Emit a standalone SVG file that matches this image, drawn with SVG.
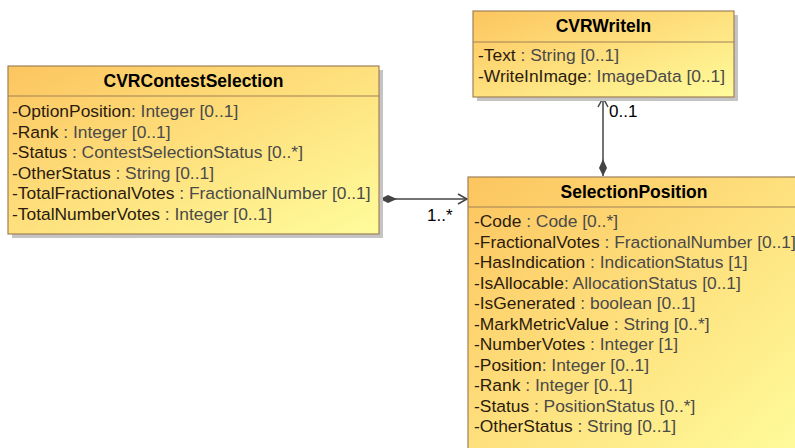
<svg xmlns="http://www.w3.org/2000/svg" width="795" height="448" viewBox="0 0 795 448">
<defs>
<linearGradient id="g" x1="0" y1="0" x2="1" y2="1">
<stop offset="0" stop-color="#fcc55f"/>
<stop offset="1" stop-color="#fffc9c"/>
</linearGradient>
<marker id="open" markerWidth="12" markerHeight="12" refX="10" refY="6" orient="auto" markerUnits="userSpaceOnUse">
<path d="M1,1 L10,6 L1,11" fill="none" stroke="#444" stroke-width="1.5"/>
</marker>
<marker id="dia" markerWidth="20" markerHeight="10" refX="1" refY="5" orient="auto" markerUnits="userSpaceOnUse">
<path d="M1,5 L9,1 L18,5 L9,9 Z" fill="#444"/>
</marker>
</defs>
<style>
.box{fill:url(#g);stroke:#a08058;stroke-width:1.2}
.sh{fill:#c4c4c4}
.sep{stroke:#a08058;stroke-width:1.2}
.t{font-family:"Liberation Sans",Arial,sans-serif;font-size:17.5px;font-weight:bold;fill:#000;text-anchor:middle}
.a{font-family:"Liberation Sans",Arial,sans-serif;font-size:17.4px;fill:#2b1b0f}
.ty{fill:#4a4a4a}
.lbl{font-family:"Liberation Sans",Arial,sans-serif;font-size:17px;fill:#000}
.c{stroke:#444;stroke-width:1.5;fill:none}
</style>
<g id="connectors">
<line class="c" x1="380" y1="199" x2="467" y2="199" marker-start="url(#dia)" marker-end="url(#open)"/>
<text class="lbl" x="427" y="221">1..*</text>
<line class="c" x1="603" y1="176" x2="603" y2="98" marker-start="url(#dia)" marker-end="url(#open)"/>
<text class="lbl" x="609" y="117">0..1</text>
</g>
<g id="CVRContestSelection">
<rect class="sh" x="12" y="70" width="371" height="168"/>
<rect class="box" x="8" y="66" width="371" height="168"/>
<line class="sep" x1="8" y1="96" x2="379" y2="96"/>
<text class="t" x="193.5" y="87">CVRContestSelection</text>
<text class="a" x="12" y="117">-OptionPosition<tspan class="ty">: Integer [0..1]</tspan></text>
<text class="a" x="12" y="137.5">-Rank<tspan class="ty"> : Integer [0..1]</tspan></text>
<text class="a" x="12" y="158">-Status<tspan class="ty"> : ContestSelectionStatus [0..*]</tspan></text>
<text class="a" x="12" y="178.5">-OtherStatus<tspan class="ty"> : String [0..1]</tspan></text>
<text class="a" x="12" y="199">-TotalFractionalVotes<tspan class="ty"> : FractionalNumber [0..1]</tspan></text>
<text class="a" x="12" y="219.5">-TotalNumberVotes<tspan class="ty"> : Integer [0..1]</tspan></text>
</g>
<g id="CVRWriteIn">
<rect class="sh" x="477" y="15" width="261" height="86"/>
<rect class="box" x="473" y="11" width="261" height="86"/>
<line class="sep" x1="473" y1="42" x2="734" y2="42"/>
<text class="t" x="603.5" y="32">CVRWriteIn</text>
<text class="a" x="478" y="61">-Text<tspan class="ty"> : String [0..1]</tspan></text>
<text class="a" x="478" y="82">-WriteInImage<tspan class="ty">: ImageData [0..1]</tspan></text>
</g>
<g id="SelectionPosition">
<rect class="sh" x="472" y="181" width="340" height="280"/>
<rect class="box" x="468" y="177" width="332" height="280"/>
<line class="sep" x1="468" y1="207" x2="800" y2="207"/>
<text class="t" x="634" y="198">SelectionPosition</text>
<text class="a" x="474" y="227">-Code<tspan class="ty"> : Code [0..*]</tspan></text>
<text class="a" x="474" y="247.5">-FractionalVotes<tspan class="ty"> : FractionalNumber [0..1]</tspan></text>
<text class="a" x="474" y="268">-HasIndication<tspan class="ty"> : IndicationStatus [1]</tspan></text>
<text class="a" x="474" y="288.5">-IsAllocable<tspan class="ty">: AllocationStatus [0..1]</tspan></text>
<text class="a" x="474" y="309">-IsGenerated<tspan class="ty"> : boolean [0..1]</tspan></text>
<text class="a" x="474" y="329.5">-MarkMetricValue<tspan class="ty"> : String [0..*]</tspan></text>
<text class="a" x="474" y="350">-NumberVotes<tspan class="ty"> : Integer [1]</tspan></text>
<text class="a" x="474" y="370.5">-Position<tspan class="ty">: Integer [0..1]</tspan></text>
<text class="a" x="474" y="391">-Rank<tspan class="ty"> : Integer [0..1]</tspan></text>
<text class="a" x="474" y="411.5">-Status<tspan class="ty"> : PositionStatus [0..*]</tspan></text>
<text class="a" x="474" y="432">-OtherStatus<tspan class="ty"> : String [0..1]</tspan></text>
</g>
</svg>
